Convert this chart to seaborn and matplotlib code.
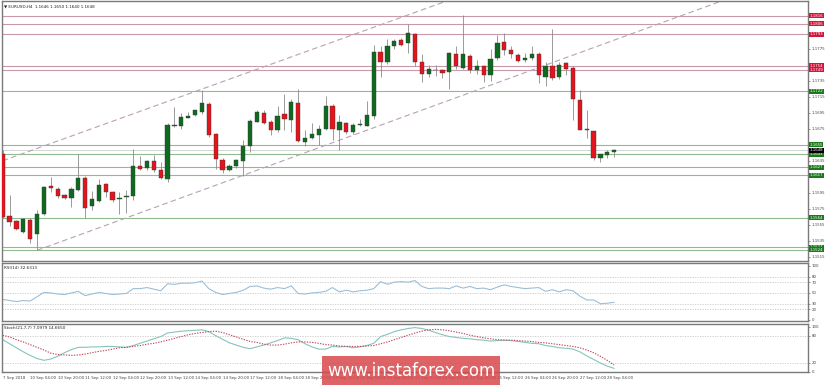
import numpy as np
import pandas as pd
import matplotlib
matplotlib.use("Agg")
import matplotlib.pyplot as plt
import matplotlib.transforms as mtransforms
from matplotlib.patches import Rectangle
import seaborn as sns

# ---------------- data ----------------
opens = [1.1644, 1.1566, 1.1560, 1.1546, 1.1561, 1.1544, 1.1568, 1.1603, 1.1600, 1.1592,
         1.1589, 1.1598, 1.1613, 1.1578, 1.1585, 1.1606, 1.1596, 1.1587, 1.1590, 1.1591,
         1.1629, 1.1626, 1.1635, 1.1623, 1.1612, 1.1680, 1.1679, 1.1689, 1.1692, 1.1696,
         1.1706, 1.1668, 1.1636, 1.1623, 1.1629, 1.1635, 1.1653, 1.1684, 1.1695, 1.1683,
         1.1673, 1.1693, 1.1686, 1.1707, 1.1659, 1.1664, 1.1667, 1.1675, 1.1703, 1.1673,
         1.1682, 1.1671, 1.1680, 1.1678, 1.1691, 1.1771, 1.1758, 1.1779, 1.1786, 1.1782,
         1.1794, 1.1759, 1.1744, 1.1749, 1.1748, 1.1746, 1.1769, 1.1751, 1.1766, 1.1748,
         1.1753, 1.1742, 1.1763, 1.1783, 1.1774, 1.1767, 1.1761, 1.1763, 1.1768, 1.1740,
         1.1754, 1.1740, 1.1757, 1.1751, 1.1711, 1.1675, 1.1672, 1.1639, 1.1642, 1.1646]
highs = [1.1648, 1.1592, 1.1561, 1.1563, 1.1563, 1.1573, 1.1603, 1.1615, 1.1602, 1.1594,
         1.1602, 1.1643, 1.1616, 1.1597, 1.1612, 1.1607, 1.1597, 1.1596, 1.1598, 1.1650,
         1.1641, 1.1636, 1.1642, 1.1633, 1.1682, 1.1702, 1.1695, 1.1696, 1.1699, 1.1723,
         1.1709, 1.1670, 1.1638, 1.1631, 1.1637, 1.1661, 1.1687, 1.1698, 1.1698, 1.1686,
         1.1703, 1.1718, 1.1712, 1.1725, 1.1674, 1.1682, 1.1680, 1.1716, 1.1706, 1.1692,
         1.1683, 1.1682, 1.1687, 1.1710, 1.1780, 1.1779, 1.1787, 1.1787, 1.1789, 1.1806,
         1.1795, 1.1768, 1.1755, 1.1755, 1.1750, 1.1771, 1.1778, 1.1817, 1.1768, 1.1761,
         1.1755, 1.1775, 1.1792, 1.1795, 1.1778, 1.1770, 1.1770, 1.1778, 1.1771, 1.1759,
         1.1800, 1.1759, 1.1758, 1.1753, 1.1723, 1.1698, 1.1672, 1.1644, 1.1648, 1.1650]
lows = [1.1564, 1.1553, 1.1548, 1.1545, 1.1532, 1.1523, 1.1567, 1.1596, 1.1589, 1.1587,
        1.1577, 1.1597, 1.1564, 1.1573, 1.1583, 1.1590, 1.1583, 1.1568, 1.1570, 1.1586,
        1.1623, 1.1624, 1.1621, 1.1612, 1.1608, 1.1677, 1.1675, 1.1688, 1.1691, 1.1694,
        1.1665, 1.1625, 1.1620, 1.1622, 1.1626, 1.1616, 1.1646, 1.1683, 1.1681, 1.1667,
        1.1671, 1.1673, 1.1671, 1.1658, 1.1653, 1.1662, 1.1655, 1.1674, 1.1661, 1.1649,
        1.1669, 1.1669, 1.1678, 1.1678, 1.1687, 1.1740, 1.1756, 1.1775, 1.1778, 1.1770,
        1.1753, 1.1734, 1.1740, 1.1741, 1.1738, 1.1725, 1.1750, 1.1750, 1.1745, 1.1743,
        1.1733, 1.1735, 1.1761, 1.1767, 1.1763, 1.1758, 1.1759, 1.1761, 1.1732, 1.1728,
        1.1736, 1.1737, 1.1742, 1.1686, 1.1673, 1.1663, 1.1636, 1.1633, 1.1638, 1.1640]
closes = [1.1565, 1.1559, 1.1550, 1.1562, 1.1537, 1.1569, 1.1602, 1.1601, 1.1591, 1.1588,
          1.1600, 1.1614, 1.1576, 1.1587, 1.1605, 1.1596, 1.1586, 1.1589, 1.1591, 1.1628,
          1.1625, 1.1635, 1.1623, 1.1613, 1.1680, 1.1678, 1.1690, 1.1691, 1.1698, 1.1707,
          1.1667, 1.1637, 1.1623, 1.1629, 1.1636, 1.1653, 1.1685, 1.1696, 1.1682, 1.1673,
          1.1691, 1.1687, 1.1708, 1.1660, 1.1664, 1.1668, 1.1675, 1.1703, 1.1675, 1.1683,
          1.1671, 1.1680, 1.1681, 1.1692, 1.1771, 1.1759, 1.1778, 1.1785, 1.1780, 1.1795,
          1.1759, 1.1743, 1.1750, 1.1748, 1.1745, 1.1770, 1.1753, 1.1768, 1.1748, 1.1753,
          1.1742, 1.1762, 1.1782, 1.1773, 1.1768, 1.1760, 1.1764, 1.1769, 1.1742, 1.1753,
          1.1739, 1.1755, 1.1750, 1.1712, 1.1674, 1.1674, 1.1639, 1.1643, 1.1646, 1.1648]

rsi = [38, 36, 34, 36, 35, 43, 51, 50, 48, 47, 50, 53, 45, 48, 51, 49, 47, 48, 49, 58,
       58, 60, 57, 54, 67, 66, 68, 68, 69, 72, 58, 51, 47, 49, 51, 55, 62, 63, 59, 57,
       60, 58, 63, 49, 48, 50, 51, 53, 60, 52, 55, 52, 54, 55, 58, 71, 66, 70, 71, 70,
       73, 62, 58, 59, 59, 58, 63, 59, 62, 58, 59, 56, 61, 65, 62, 60, 58, 59, 60, 53,
       56, 52, 56, 54, 44, 37, 37, 30, 31, 32.63]
stoch_k = [71, 62, 53, 44, 36, 29, 25, 28, 34, 42, 49, 54, 54, 55, 55, 56, 56, 55, 54, 58,
           63, 68, 73, 78, 86, 88, 90, 91, 92, 93, 89, 80, 72, 64, 59, 54, 51, 55, 59, 64,
           69, 75, 74, 71, 62, 55, 50, 50, 56, 55, 56, 53, 55, 58, 63, 78, 83, 89, 93, 96,
           98, 96, 92, 87, 82, 78, 76, 74, 73, 71, 70, 68, 69, 70, 69, 67, 65, 63, 62, 58,
           56, 53, 52, 50, 44, 35, 27, 19, 12, 7.10]
stoch_d = [81, 77, 71, 66, 60, 54, 48, 41, 38, 37, 36, 37, 39, 42, 45, 47, 50, 53, 54, 56,
           58, 61, 63, 66, 70, 74, 78, 82, 85, 87, 89, 90, 87, 82, 77, 72, 67, 65, 61, 59,
           59, 61, 64, 66, 66, 65, 63, 60, 59, 57, 56, 56, 56, 57, 58, 62, 66, 71, 76, 81,
           86, 90, 93, 94, 93, 91, 88, 85, 81, 78, 75, 73, 71, 70, 70, 69, 68, 67, 65, 64,
           62, 60, 58, 56, 53, 48, 42, 34, 25, 14.67]

x_labels = ["7 Sep 2018", "10 Sep 04:00", "10 Sep 20:00", "11 Sep 12:00", "12 Sep 04:00",
            "12 Sep 20:00", "13 Sep 12:00", "14 Sep 04:00", "14 Sep 20:00", "17 Sep 12:00",
            "18 Sep 04:00", "18 Sep 20:00", "19 Sep 12:00", "20 Sep 04:00", "20 Sep 20:00",
            "21 Sep 12:00", "24 Sep 04:00", "24 Sep 20:00", "25 Sep 12:00", "26 Sep 04:00",
            "26 Sep 20:00", "27 Sep 12:00", "28 Sep 04:00"]
x_label_pos = [0] + [4 + 4 * k for k in range(22)]

resistance_levels = [1.1816, 1.1806, 1.1793, 1.1754, 1.1749]
support_levels = [1.1722, 1.1655, 1.1643, 1.1627, 1.1617, 1.1564, 1.1527, 1.1524]
current_price = 1.1648
channel_upper = [(0.0, 1.1635), (64.4, 1.1834)]
channel_lower = [(5.0, 1.1523), (104.4, 1.1834)]
price_ticks = [1.1515, 1.1535, 1.1555, 1.1575, 1.1595, 1.1615, 1.1635, 1.1655, 1.1675,
               1.1695, 1.1715, 1.1735, 1.1755, 1.1775, 1.1795, 1.1815]

# ---------------- figure ----------------
sns.set_style("white")
plt.rcParams["font.family"] = ["DejaVu Sans"]

W, H = 825, 385
fig = plt.figure(figsize=(W / 100, H / 100), dpi=100)
fig.patch.set_facecolor("white")

def frac_axes(x0, y0, x1, y1):
    return fig.add_axes([x0 / W, 1 - y1 / H, (x1 - x0) / W, (y1 - y0) / H])

ax = frac_axes(2, 1, 808, 261)
ax_r = frac_axes(2, 263, 808, 321)
ax_s = frac_axes(2, 324, 808, 372)

XMIN, XMAX = -0.1, 117.2
spine_col = "#7a7a7a"
tick_col = "#444444"
fs = 3.0
fs_lab = 2.8

for a in (ax, ax_r, ax_s):
    a.set_facecolor("white")
    a.set_xlim(XMIN, XMAX)
    for s in a.spines.values():
        s.set_color(spine_col)
        s.set_linewidth(1.0)
    a.yaxis.tick_right()
    a.tick_params(axis="y", length=1.5, width=0.4, labelsize=fs_lab, colors=tick_col, pad=1)
    a.grid(False)

df = pd.DataFrame({"idx": np.arange(len(opens)), "open": opens, "high": highs,
                   "low": lows, "close": closes, "rsi": rsi, "k": stoch_k, "d": stoch_d})

# ---------------- main price panel ----------------
ax.set_ylim(1.15097, 1.18347)
all_levels = resistance_levels + support_levels + [current_price]
ax.set_yticks(price_ticks)
ax.set_yticklabels([("" if min(abs(t - lv) for lv in all_levels) < 0.0004 else f"{t:.4f}")
                    for t in price_ticks])
ax.set_xticks([])

for lv in resistance_levels:
    ax.axhline(lv, color="#c79aaa", lw=0.8, zorder=1)
for lv in support_levels:
    ax.axhline(lv, color="#8fbc8f", lw=0.8, zorder=1)
ax.axhline(current_price, color="#cfcfcf", lw=0.6, zorder=1)

for (xa, ya), (xb, yb) in (channel_upper, channel_lower):
    slope = (yb - ya) / (xb - xa)
    start = max(XMIN, xa)
    xx = np.array([start, XMAX])
    ax.plot(xx, ya + slope * (xx - xa), color="#b9a0b6", lw=0.8,
            dashes=(5, 3), zorder=2)

up = df["close"] >= df["open"]
body_bottom = np.minimum(df["open"], df["close"])
body_h = np.maximum(np.abs(df["close"] - df["open"]), 0.00003)
ax.vlines(df["idx"], df["low"], df["high"], color="#8a8a8a", lw=0.6, zorder=3)
ax.bar(df["idx"], body_h, bottom=body_bottom, width=0.62,
       color=np.where(up, "#0d6b1f", "#e5141c"), edgecolor="#3a3a3a",
       linewidth=0.3, zorder=4)

blend = mtransforms.blended_transform_factory(ax.transAxes, ax.transData)
def level_label(lv, col, z):
    ax.text(1.002, lv, f"{lv:.4f}", transform=blend, fontsize=fs_lab, color="white",
            va="center", ha="left", zorder=z, clip_on=False,
            bbox=dict(boxstyle="square,pad=0.12", fc=col, ec="none"))
for lv in resistance_levels:
    level_label(lv, "#d4143c", 10)
for lv in support_levels:
    level_label(lv, "#1b7a1b", 10)
level_label(current_price, "black", 11)

ax.text(0.003, 0.985, "\u25BC EURUSD,H4  1.1646 1.1650 1.1640 1.1648",
        transform=ax.transAxes, fontsize=fs, color="#222222", va="top", ha="left")

# ---------------- RSI panel ----------------
ax_r.set_ylim(-2, 105.5)
ax_r.set_yticks([0, 20, 30, 50, 70, 80, 100])
ax_r.set_xticks([])
for lv in (20, 30, 50, 70, 80):
    ax_r.axhline(lv, color="#c8c8c8", lw=0.6, ls=(0, (1.5, 1.5)))
sns.lineplot(data=df, x="idx", y="rsi", ax=ax_r, color="#9dbfd6", lw=0.8)
ax_r.set_xlabel("")
ax_r.set_ylabel("")
ax_r.text(0.003, 0.95, "RSI(14) 32.6313", transform=ax_r.transAxes, fontsize=fs,
          color="#222222", va="top", ha="left")

# ---------------- Stochastic panel ----------------
ax_s.set_ylim(-1, 106)
ax_s.set_yticks([0, 20, 80, 100])
for lv in (20, 80):
    ax_s.axhline(lv, color="#c8c8c8", lw=0.6, ls=(0, (1.5, 1.5)))
sns.lineplot(data=df, x="idx", y="k", ax=ax_s, color="#86c4bc", lw=0.8)
sns.lineplot(data=df, x="idx", y="d", ax=ax_s, color="#c0485a", lw=0.8,
             linestyle=(0, (1.2, 1.2)))
ax_s.set_xlabel("")
ax_s.set_ylabel("")
ax_s.text(0.003, 0.95, "Stoch(21,7,7) 7.0979 14.6650", transform=ax_s.transAxes,
          fontsize=fs, color="#222222", va="top", ha="left")
ax_s.set_xticks(x_label_pos)
ax_s.set_xticklabels(x_labels, ha="left")
ax_s.tick_params(axis="x", length=2, width=0.4, labelsize=fs_lab, colors=tick_col, pad=1)

# ---------------- watermark ----------------
fig.patches.append(Rectangle((322 / W, 0), 178 / W, 29 / H, transform=fig.transFigure,
                             facecolor="#d9484c", alpha=0.85, edgecolor="none", zorder=20))
fig.text(411 / W, 14 / H, "www.instaforex.com", color="white", fontsize=12,
         ha="center", va="center", zorder=21)

fig.savefig("out.png", dpi=100, facecolor="white")
